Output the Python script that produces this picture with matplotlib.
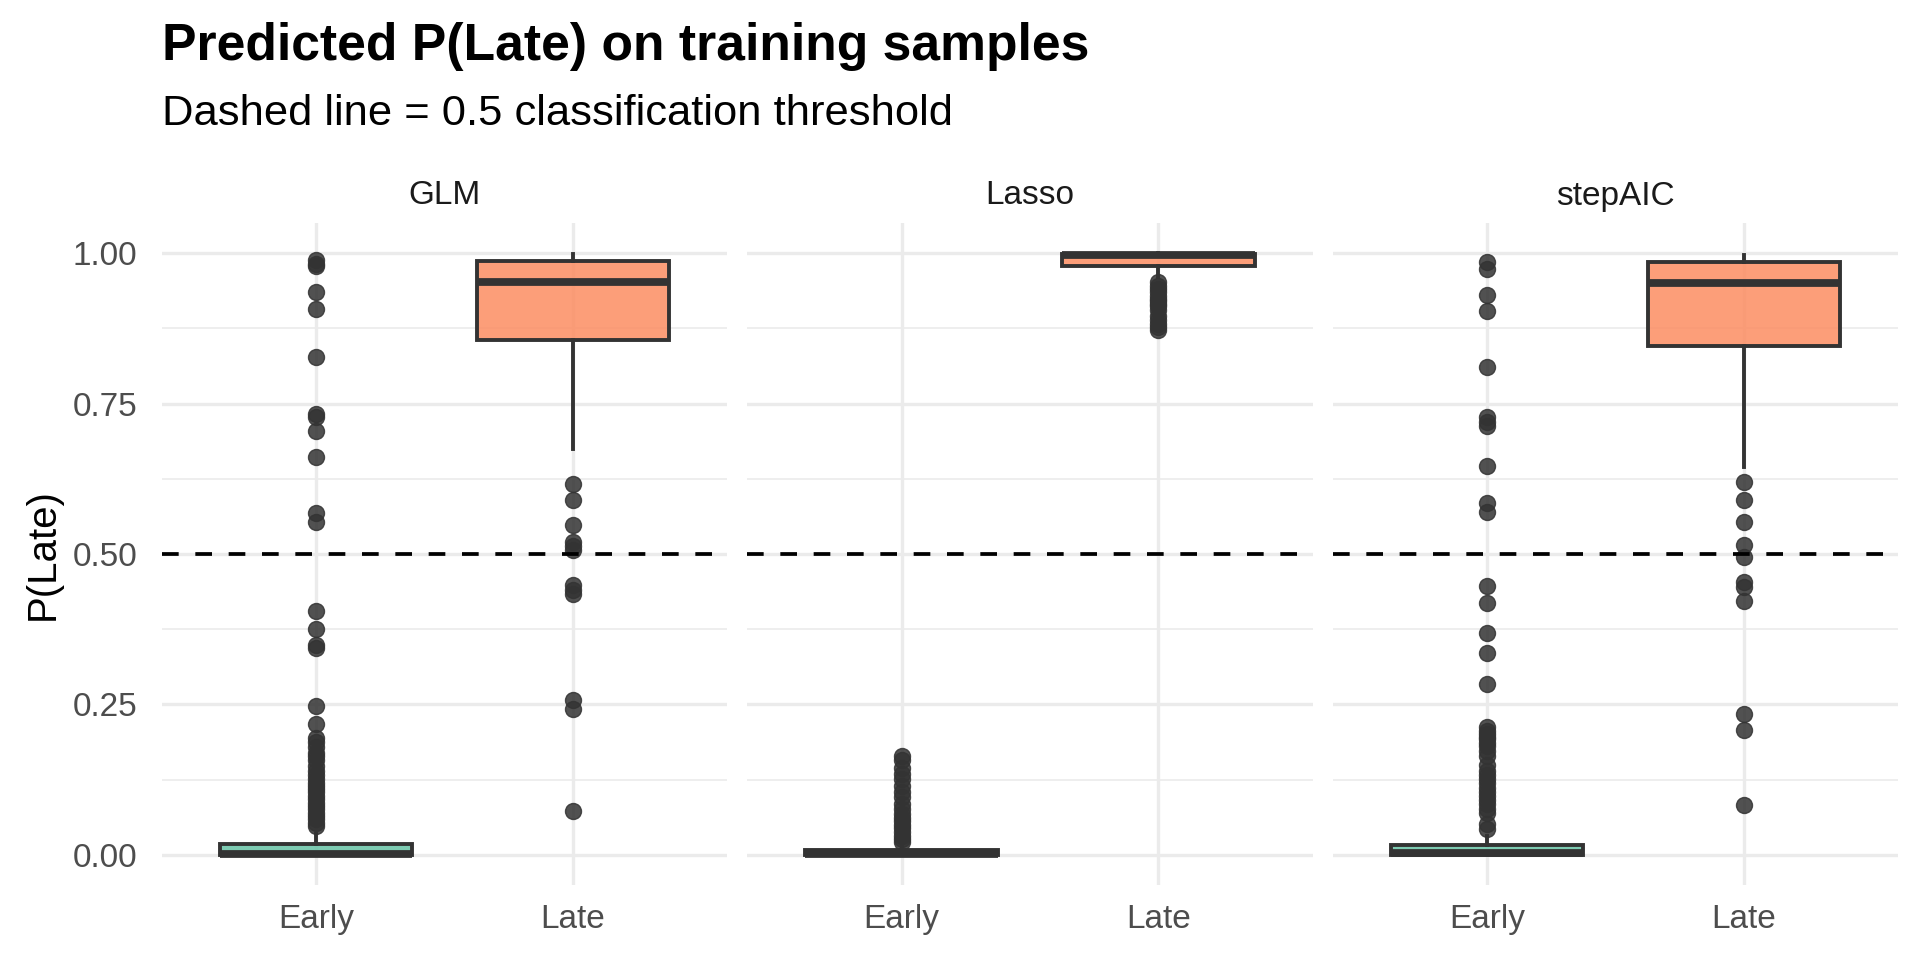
import matplotlib
matplotlib.use("Agg")
import matplotlib.pyplot as plt
from matplotlib.ticker import MultipleLocator

plt.rcParams['font.family'] = ['Liberation Sans', 'DejaVu Sans']
plt.rcParams['lines.scale_dashes'] = False

# values
models = ["GLM", "Lasso", "stepAIC"]
classes = ["Early", "Late"]
class_colors = ["#66C2A5", "#FC8D62"]

# box stats per model: [Early, Late] -> (q1, median, q3, whisker low, whisker high)
glm_box = [(0.0, 0.002, 0.018, 0.0, 0.034), (0.855, 0.952, 0.987, 0.674, 0.998)]
lasso_box = [(0.0, 0.001, 0.008, 0.0, 0.019), (0.979, 0.997, 0.999, 0.960, 1.0)]
step_box = [(0.0, 0.003, 0.016, 0.0, 0.031), (0.846, 0.951, 0.986, 0.644, 0.997)]

glm_early_out = [0.988, 0.982, 0.978, 0.936, 0.907, 0.827, 0.733, 0.727, 0.704,
                 0.661, 0.568, 0.554, 0.406, 0.376, 0.348, 0.344, 0.247, 0.217,
                 0.195, 0.187, 0.179, 0.170, 0.165, 0.158, 0.148, 0.140, 0.133,
                 0.126, 0.120, 0.115, 0.109, 0.104, 0.098, 0.093, 0.087, 0.081,
                 0.076, 0.070, 0.064, 0.059, 0.053, 0.048]
glm_late_out = [0.617, 0.589, 0.549, 0.520, 0.513, 0.506, 0.448, 0.440, 0.434,
                0.257, 0.242, 0.073]

lasso_early_out = [0.165, 0.158, 0.145, 0.135, 0.126, 0.115, 0.104, 0.096, 0.085,
                   0.076, 0.068, 0.062, 0.056, 0.050, 0.044, 0.038, 0.032, 0.027,
                   0.022]
lasso_late_out = [0.952, 0.946, 0.940, 0.935, 0.929, 0.924, 0.920, 0.915, 0.912,
                  0.905, 0.895, 0.889, 0.883, 0.877, 0.872]

step_early_out = [0.986, 0.974, 0.930, 0.904, 0.810, 0.727, 0.720, 0.713, 0.647,
                  0.585, 0.570, 0.446, 0.418, 0.368, 0.335, 0.284, 0.212, 0.206,
                  0.201, 0.196, 0.192, 0.186, 0.181, 0.173, 0.165, 0.150, 0.140,
                  0.133, 0.126, 0.119, 0.112, 0.105, 0.098, 0.091, 0.084, 0.076,
                  0.070, 0.051, 0.043]
step_late_out = [0.620, 0.589, 0.553, 0.515, 0.495, 0.454, 0.445, 0.422, 0.234,
                 0.207, 0.083]

boxes = [glm_box, lasso_box, step_box]
outliers = [[glm_early_out, glm_late_out],
            [lasso_early_out, lasso_late_out],
            [step_early_out, step_late_out]]
threshold = 0.5

fig = plt.figure(figsize=(19.2, 9.6), dpi=100)
fig.patch.set_facecolor("white")

left, width, gap = 162 / 1920, 565 / 1920, 20.5 / 1920
bottom, height = 1 - 885 / 960, (885 - 223) / 960

grid_col = "#EBEBEB"
edge_col = "#333333"

for i, m in enumerate(models):
    ax = fig.add_axes([left + i * (width + gap), bottom, width, height])
    stats = []
    for j in range(2):
        q1, med, q3, lo, hi = boxes[i][j]
        stats.append(dict(q1=q1, med=med, q3=q3, whislo=lo, whishi=hi,
                          fliers=outliers[i][j], label=classes[j]))
    bp = ax.bxp(stats, positions=[1, 2], widths=0.75, patch_artist=True,
                showcaps=False,
                boxprops=dict(edgecolor=edge_col, linewidth=2.8),
                medianprops=dict(color=edge_col, linewidth=5.6, solid_capstyle='butt'),
                whiskerprops=dict(color=edge_col, linewidth=2.8),
                flierprops=dict(marker='o', markersize=11.5, markerfacecolor=edge_col,
                                markeredgecolor=edge_col, markeredgewidth=1.0,
                                alpha=0.85, linestyle='none'))
    for patch, c in zip(bp['boxes'], class_colors):
        r, g, b, _ = matplotlib.colors.to_rgba(c)
        patch.set_facecolor((r, g, b, 0.85))
        patch.set_edgecolor(edge_col)

    ax.axhline(threshold, color="black", linewidth=2.7, linestyle=(0, (12, 12)), zorder=5)

    ax.set_xlim(0.4, 2.6)
    ax.set_ylim(-0.05, 1.05)
    ax.yaxis.set_major_locator(MultipleLocator(0.25))
    ax.yaxis.set_minor_locator(MultipleLocator(0.125))
    ax.set_xticks([1, 2])
    ax.set_xticklabels(classes)
    ax.set_axisbelow(True)
    ax.grid(which='major', axis='both', color=grid_col, linewidth=2.4)
    ax.grid(which='minor', axis='y', color=grid_col, linewidth=1.2)
    for s in ax.spines.values():
        s.set_visible(False)
    ax.tick_params(which='both', length=0)
    ax.tick_params(axis='x', labelsize=24, labelcolor="#4D4D4D", pad=14)
    ax.tick_params(axis='y', labelsize=24, labelcolor="#4D4D4D", pad=18)
    ax.yaxis.set_major_formatter(matplotlib.ticker.FormatStrFormatter('%.2f'))
    if i > 0:
        ax.set_yticklabels([])
    fig.text(left + i * (width + gap) + width / 2, 1 - 196 / 960, m,
             ha='center', va='center', fontsize=24, color="#1A1A1A")

fig.text(42.5 / 1920, 1 - 554 / 960, "P(Late)", rotation=90, ha='center',
         va='center', fontsize=29, color="black")
fig.text(162 / 1920, 1 - 60 / 960, "Predicted P(Late) on training samples",
         ha='left', va='baseline', fontsize=37.2, fontweight='bold', color="black")
fig.text(162 / 1920, 1 - 125 / 960, "Dashed line = 0.5 classification threshold",
         ha='left', va='baseline', fontsize=31.3, color="black")

fig.savefig("out.png", dpi=100, facecolor="white")
